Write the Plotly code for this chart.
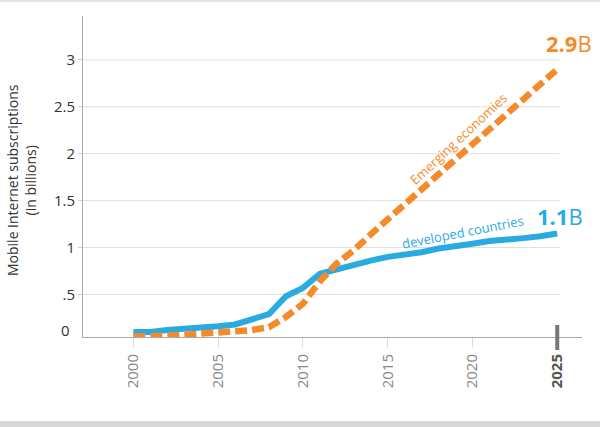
import plotly.graph_objects as go

years = list(range(2000, 2026))
developed = [0.10, 0.10, 0.12, 0.13, 0.15, 0.16, 0.18, 0.23, 0.29, 0.48, 0.57, 0.72, 0.77,
             0.81, 0.86, 0.90, 0.92, 0.95, 0.99, 1.01, 1.04, 1.07, 1.08, 1.10, 1.12, 1.15]
emerging = [0.05, 0.05, 0.06, 0.07, 0.08, 0.09, 0.10, 0.12, 0.15, 0.26, 0.40, 0.64, 0.83,
            0.97, 1.14, 1.30, 1.46, 1.62, 1.78, 1.94, 2.10, 2.26, 2.42, 2.58, 2.74, 2.90]
x_ticks = [2000, 2005, 2010, 2015, 2020, 2025]
x_ticktext = ["2000", "2005", "2010", "2015", "2020",
              "<span style='color:#555'><b>2025</b></span>"]
y_ticks = [0.5, 1, 1.5, 2, 2.5, 3]
y_ticktext = [".5", "1", "1.5", "2", "2.5", "3"]

BLUE = "#29abe2"
ORANGE = "#f58a2b"
FONT = "Open Sans"

fig = go.Figure()
fig.add_trace(go.Scatter(x=years, y=developed, mode="lines",
                         line=dict(color=BLUE, width=6), hoverinfo="skip"))
fig.add_trace(go.Scatter(x=years, y=emerging, mode="lines",
                         line=dict(color=ORANGE, width=6.5, dash="12px,5px"), hoverinfo="skip"))

shapes = []
for v in y_ticks:
    shapes.append(dict(type="line", xref="x", yref="y", x0=1997.03, x1=2025.16, y0=v, y1=v,
                       line=dict(color="#e0e0e0", width=1), layer="below"))
# 2025 marker bar
shapes.append(dict(type="line", xref="x", yref="paper", x0=2025, x1=2025, y0=0.0374, y1=-0.0405,
                   line=dict(color="#777777", width=4)))
# bottom band and top line
shapes.append(dict(type="rect", xref="paper", yref="paper", x0=-0.2, x1=1.1, y0=-0.2804, y1=-0.2617,
                   fillcolor="#d9d9d9", line=dict(width=0)))
shapes.append(dict(type="rect", xref="paper", yref="paper", x0=-0.2, x1=1.1, y0=1.0436, y1=1.0498,
                   fillcolor="#e6e6e6", line=dict(width=0)))

annotations = [
    dict(text="Mobile Internet subscriptions<br>(in billions)", xref="paper", yref="paper",
         x=-0.1222, y=0.4891, xanchor="center", yanchor="middle", textangle=-90, showarrow=False,
         font=dict(family=FONT, size=14, color="#333333")),
    dict(text="0", xref="paper", yref="y", x=-0.022, y=0.12, xanchor="right", yanchor="middle",
         showarrow=False, font=dict(family=FONT, size=15, color="#333333")),
    dict(text="<b>2.9</b>B", xref="x", yref="y", x=2025.69, y=3.185, xanchor="center",
         yanchor="middle", showarrow=False, font=dict(family=FONT, size=22, color=ORANGE)),
    dict(text="<b>1.1</b>B", xref="x", yref="y", x=2025.16, y=1.341, xanchor="center",
         yanchor="middle", showarrow=False, font=dict(family=FONT, size=22, color=BLUE)),
    dict(text="Emerging economies", xref="x", yref="y", x=2019.15, y=2.16, xanchor="center",
         yanchor="middle", textangle=-43, showarrow=False,
         font=dict(family=FONT, size=13, color=ORANGE)),
    dict(text="developed countries", xref="x", yref="y", x=2019.44, y=1.165, xanchor="center",
         yanchor="middle", textangle=-11, showarrow=False,
         font=dict(family=FONT, size=13, color=BLUE)),
]

fig.update_layout(
    width=600, height=427,
    margin=dict(l=83, r=18, t=16, b=90),
    paper_bgcolor="white", plot_bgcolor="white",
    showlegend=False,
    shapes=shapes, annotations=annotations,
    xaxis=dict(range=[1997.03, 2026.46], tickvals=x_ticks, ticktext=x_ticktext,
               tickangle=-90, showgrid=False, zeroline=False,
               showline=True, linecolor="#aaaaaa", linewidth=1,
               ticks="outside", ticklen=10, tickcolor="#dddddd",
               tickfont=dict(family=FONT, size=15, color="#888888")),
    yaxis=dict(range=[0.046, 3.468], tickvals=y_ticks, ticktext=y_ticktext,
               showgrid=False, zeroline=False,
               showline=True, linecolor="#aaaaaa", linewidth=1,
               ticks="outside", ticklen=4, tickcolor="#cccccc",
               tickfont=dict(family=FONT, size=15, color="#333333")),
)

fig.write_html("out.html", config={"displayModeBar": False},
               post_script="document.body.style.margin='0';document.body.style.overflow='hidden';")
